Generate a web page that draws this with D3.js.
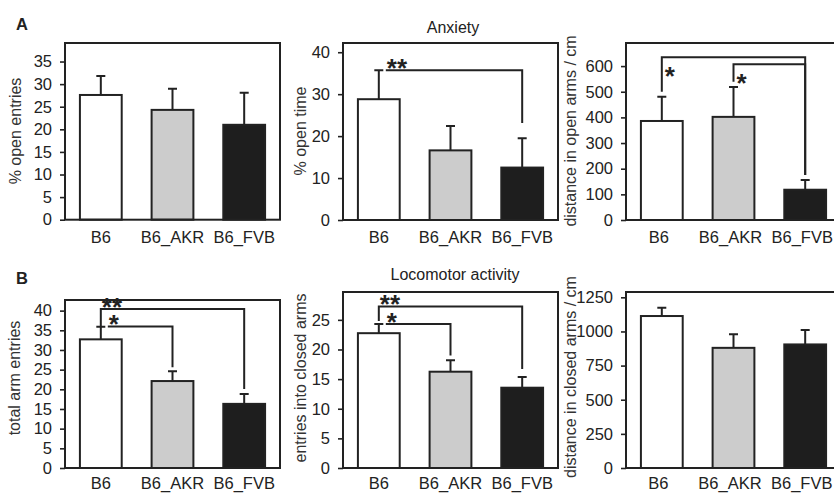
<!DOCTYPE html>
<html>
<head>
<meta charset="utf-8">
<script src="https://cdn.jsdelivr.net/npm/d3@7"></script>
<style>
  body { margin: 0; background: #fff; }
  text { font-family: "Liberation Sans", Arial, sans-serif; }
</style>
</head>
<body>
<div id="chart"></div>
<script>
/**
 * DATA
 * */
const groups = ["B6", "B6_AKR", "B6_FVB"];
const barColors = ["#ffffff", "#cccccc", "#1e1e1e"];

// A - anxiety
const openEntriesMean = [27.6, 24.3, 21.0];
const openEntriesSem = [4.2, 4.7, 7.1];
const openEntriesTicks = [0, 5, 10, 15, 20, 25, 30, 35];

const openTimeMean = [28.8, 16.6, 12.5];
const openTimeSem = [6.9, 5.8, 7.0];
const openTimeTicks = [0, 10, 20, 30, 40];

const openDistMean = [386, 402, 118];
const openDistSem = [94, 116, 38];
const openDistTicks = [0, 100, 200, 300, 400, 500, 600];

// B - locomotor activity
const totalEntriesMean = [32.7, 22.1, 16.3];
const totalEntriesSem = [3.2, 2.5, 2.5];
const totalEntriesTicks = [0, 5, 10, 15, 20, 25, 30, 35, 40];

const closedEntriesMean = [22.75, 16.25, 13.55];
const closedEntriesSem = [1.55, 1.95, 1.8];
const closedEntriesTicks = [0, 5, 10, 15, 20, 25];

const closedDistMean = [1113, 880, 905];
const closedDistSem = [61, 99, 105];
const closedDistTicks = [0, 250, 500, 750, 1000, 1250];

// significance brackets (levels in data units)
const openTimeSig = [
  { from: "B6", to: "B6_FVB", level: 35.7, left: null, right: 23.1, label: "**" }
];
const openDistSig = [
  { from: "B6", to: "B6_FVB", level: 634, left: 500, right: 175, label: "*" },
  { from: "B6_AKR", to: "B6_FVB", level: 607, left: 539, right: 175, label: "*" }
];
const totalEntriesSig = [
  { from: "B6", to: "B6_FVB", level: 40.4, left: 35.95, right: 20.1, label: "**" },
  { from: "B6", to: "B6_AKR", level: 35.95, left: null, right: 25.6, label: "*" }
];
const closedEntriesSig = [
  { from: "B6", to: "B6_FVB", level: 27.25, left: 24.8, right: 16.7, label: "**" },
  { from: "B6", to: "B6_AKR", level: 24.3, left: null, right: 19.0, label: "*" }
];

/**
 * LAYOUT
 * */
const width = 834, height = 493;
const boxW = 215;
const ink = "#222";
const fontSize = "16.5px";

const panels = [
  { mean: openEntriesMean, sem: openEntriesSem, ticks: openEntriesTicks, yMax: 39.1,
    label: "% open entries", left: 65, top: 43, bottom: 219.7, labelX: 16, labelY: 131, sig: [] },
  { mean: openTimeMean, sem: openTimeSem, ticks: openTimeTicks, yMax: 42.2,
    label: "% open time", left: 343, top: 43, bottom: 220, labelX: 301, labelY: 131, sig: openTimeSig, stars: "above" },
  { mean: openDistMean, sem: openDistSem, ticks: openDistTicks, yMax: 690,
    label: "distance in open arms / cm", left: 626, top: 43, bottom: 220, labelX: 571, labelY: 131, sig: openDistSig, stars: "below", xShift: -3 },
  { mean: totalEntriesMean, sem: totalEntriesSem, ticks: totalEntriesTicks, yMax: 42.7,
    label: "total arm entries", left: 65, top: 300, bottom: 468, labelX: 15, labelY: 378, sig: totalEntriesSig, stars: "above" },
  { mean: closedEntriesMean, sem: closedEntriesSem, ticks: closedEntriesTicks, yMax: 29.7,
    label: "entries into closed arms", left: 343, top: 292, bottom: 468, labelX: 301, labelY: 378, sig: closedEntriesSig, stars: "above" },
  { mean: closedDistMean, sem: closedDistSem, ticks: closedDistTicks, yMax: 1289,
    label: "distance in closed arms / cm", left: 626, top: 292, bottom: 468, labelX: 571, labelY: 377, sig: [], xShift: -3.5 }
];

const svg = d3.select("#chart")
  .append("svg")
  .attr("width", width)
  .attr("height", height);

panels.forEach(p => {
  const x = d3.scaleBand()
    .domain(groups)
    .range([p.left, p.left + boxW])
    .paddingInner(0.417)
    .paddingOuter(0.208);

  const y = d3.scaleLinear()
    .domain([0, p.yMax])
    .range([p.bottom, p.top]);

  const g = svg.append("g");
  const cx = d => x(d) + x.bandwidth() / 2;

  // bars
  g.selectAll("rect.bar")
    .data(groups)
    .join("rect")
    .attr("class", "bar")
    .attr("x", d => x(d))
    .attr("width", x.bandwidth())
    .attr("y", (d, i) => y(p.mean[i]))
    .attr("height", (d, i) => y(0) - y(p.mean[i]))
    .attr("fill", (d, i) => barColors[i])
    .attr("stroke", ink)
    .attr("stroke-width", 2);

  // error bars (upper only)
  g.selectAll("path.err")
    .data(groups)
    .join("path")
    .attr("class", "err")
    .attr("fill", "none")
    .attr("stroke", ink)
    .attr("stroke-width", 2)
    .attr("d", (d, i) => {
      const top = y(p.mean[i] + p.sem[i]);
      return `M${cx(d)},${y(p.mean[i])}V${top}M${cx(d) - 4.5},${top}H${cx(d) + 4.5}`;
    });

  // frame
  g.append("rect")
    .attr("x", p.left)
    .attr("y", p.top)
    .attr("width", boxW)
    .attr("height", p.bottom - p.top)
    .attr("fill", "none")
    .attr("stroke", ink)
    .attr("stroke-width", 2);

  // y axis
  const yAxis = g.append("g")
    .attr("transform", `translate(${p.left},0)`)
    .call(d3.axisLeft(y).tickValues(p.ticks).tickSize(5).tickPadding(8).tickFormat(d3.format("d")));
  yAxis.select(".domain").remove();
  yAxis.selectAll("line").attr("stroke", ink).attr("stroke-width", 1.6);
  yAxis.selectAll("text")
    .attr("fill", ink)
    .style("font-size", fontSize)
    .style("font-family", '"Liberation Sans", Arial, sans-serif');

  // x axis labels
  const xAxis = g.append("g")
    .attr("transform", `translate(${p.xShift || 0},${p.bottom})`)
    .call(d3.axisBottom(x).tickSize(0).tickPadding(p.bottom > 400 ? 9.5 : 11.5));
  xAxis.select(".domain").remove();
  xAxis.selectAll("text")
    .attr("fill", ink)
    .style("font-size", fontSize)
    .style("font-family", '"Liberation Sans", Arial, sans-serif');

  // y label
  g.append("text")
    .attr("transform", `translate(${p.labelX},${p.labelY}) rotate(-90)`)
    .attr("text-anchor", "middle")
    .attr("dy", "0.32em")
    .attr("fill", "#333")
    .style("font-size", "16px")
    .text(p.label);

  // significance brackets
  if (p.sig.length) {
    const stars = g.append("text")
      .attr("fill", ink)
      .style("font-size", "26px")
      .style("font-weight", "bold");

    p.sig.forEach(s => {
      const xl = cx(s.from), xr = cx(s.to);
      const start = s.left === null ? xl + 7 : xl;
      const d = s.left === null
        ? `M${start},${y(s.level)}H${xr}V${y(s.right)}`
        : `M${xl},${y(s.left)}V${y(s.level)}H${xr}V${y(s.right)}`;
      g.append("path")
        .attr("d", d)
        .attr("fill", "none")
        .attr("stroke", ink)
        .attr("stroke-width", 2);

      stars.append("tspan")
        .attr("x", p.stars === "below" ? start + 3 : start + 1)
        .attr("y", p.stars === "below" ? y(s.level) + 28 : y(s.level) + 6.5)
        .text(s.label);
    });
  }
});

// panel letters and titles
svg.append("text").attr("x", 16).attr("y", 30)
  .style("font-size", "16.5px").style("font-weight", "bold").attr("fill", ink).text("A");
svg.append("text").attr("x", 16).attr("y", 284)
  .style("font-size", "16.5px").style("font-weight", "bold").attr("fill", ink).text("B");

svg.append("text").attr("x", 453).attr("y", 33)
  .attr("text-anchor", "middle").style("font-size", "16px").attr("fill", ink).text("Anxiety");
svg.append("text").attr("x", 455).attr("y", 280)
  .attr("text-anchor", "middle").style("font-size", "16px").attr("fill", ink).text("Locomotor activity");
</script>
</body>
</html>
